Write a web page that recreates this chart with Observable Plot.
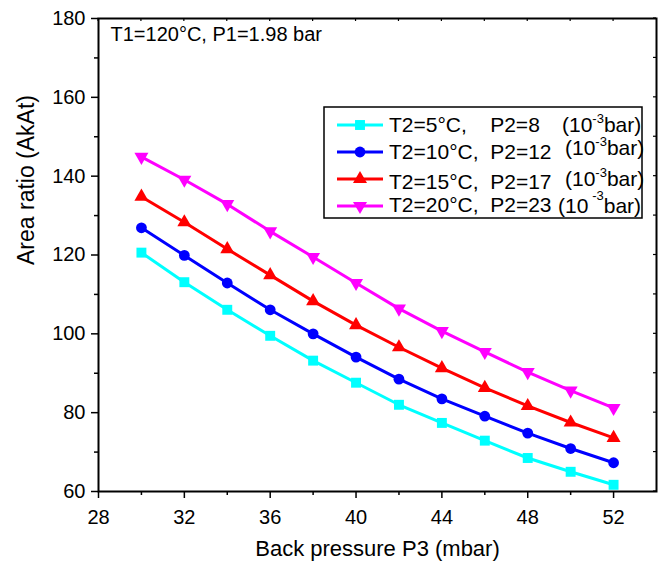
<!DOCTYPE html>
<html>
<head>
<meta charset="utf-8">
<script src="https://cdn.jsdelivr.net/npm/d3@7"></script>
<script src="https://cdn.jsdelivr.net/npm/@observablehq/plot@0.6"></script>
<style>
  html, body { margin: 0; padding: 0; background: #fff; }
  svg { font-family: "Liberation Sans", Arial, sans-serif; }
</style>
</head>
<body>
<div id="chart"></div>
<script>
// ---- data ----
const backPressure = [30, 32, 34, 36, 38, 40, 42, 44, 46, 48, 50, 52];
const ratioT2_5  = [120.6, 113.1, 106.1, 99.5, 93.2, 87.6, 82.0, 77.4, 72.9, 68.5, 65.0, 61.7];
const ratioT2_10 = [126.9, 119.9, 112.9, 106.1, 100.0, 94.1, 88.5, 83.5, 79.1, 74.8, 70.9, 67.3];
const ratioT2_15 = [134.8, 128.3, 121.5, 114.9, 108.3, 102.2, 96.6, 91.3, 86.3, 81.7, 77.5, 73.6];
const ratioT2_20 = [144.9, 139.1, 132.9, 126.0, 119.5, 112.9, 106.4, 100.7, 95.4, 90.3, 85.6, 81.2];
const seriesKeys = ["T2=5", "T2=10", "T2=15", "T2=20"];
const legendLabels = ["T2=5°C,    P2=8", "T2=10°C,  P2=12", "T2=15°C,  P2=17", "T2=20°C,  P2=23"];
const xMajorTicks = [28, 32, 36, 40, 44, 48, 52];
const xMinorTicks = [30, 34, 38, 42, 46, 50];
const yMajorTicks = [60, 80, 100, 120, 140, 160, 180];
const yMinorTicks = [70, 90, 110, 130, 150, 170];
const annotationText = "T1=120°C, P1=1.98 bar";
const xTitle = "Back pressure P3 (mbar)";
const yTitle = "Area ratio (AkAt)";

// ---- styles ----
const colors = ["#00FFFF", "#0000FF", "#FF0000", "#FF00FF"];
const sqrt3 = Math.sqrt(3);
const triangleDown = {
  draw(context, size) {
    const y = -Math.sqrt(size / (sqrt3 * 3));
    context.moveTo(0, -y * 2);
    context.lineTo(-sqrt3 * y, y);
    context.lineTo(sqrt3 * y, y);
    context.closePath();
  }
};
const symbols = [d3.symbolSquare, d3.symbolCircle, d3.symbolTriangle, triangleDown];
const radii = [5.6, 5.4, 5.2, 5.2];

const seriesValues = [ratioT2_5, ratioT2_10, ratioT2_15, ratioT2_20];
const rows = [];
seriesValues.forEach((vals, i) => vals.forEach((v, j) => rows.push({series: seriesKeys[i], p3: backPressure[j], ratio: v})));

const FONT = "Liberation Sans, Arial, sans-serif";

const marks = [
  Plot.axisX({ticks: xMajorTicks, tickSize: 7, tickPadding: 11, fontSize: 20, label: null, strokeWidth: 1.5}),
  Plot.axisX({ticks: xMinorTicks, tickSize: 4, text: null, label: null, strokeWidth: 1.5}),
  Plot.axisY({ticks: yMajorTicks, tickSize: 7, tickPadding: 6, fontSize: 20, label: null, strokeWidth: 1.5}),
  Plot.axisY({ticks: yMinorTicks, tickSize: 4, text: null, label: null, strokeWidth: 1.5}),
];
seriesKeys.forEach((k, i) => {
  const d = rows.filter(r => r.series === k);
  marks.push(Plot.line(d, {x: "p3", y: "ratio", stroke: colors[i], strokeWidth: 3}));
  marks.push(Plot.dot(d, {x: "p3", y: "ratio", fill: colors[i], stroke: "none", symbol: symbols[i], r: radii[i]}));
});
marks.push(
  Plot.frame({stroke: "black", strokeWidth: 2}),
  Plot.text([annotationText], {frameAnchor: "top-left", dx: 12, dy: 8, textAnchor: "start", lineAnchor: "top", fontSize: 20, fill: "black"}),
  Plot.text([xTitle], {frameAnchor: "bottom", dy: 64, fontSize: 22, fill: "black"}),
  Plot.text([yTitle], {frameAnchor: "left", dx: -72, dy: 10, rotate: -90, fontSize: 23, fill: "black"})
);

const plot = Plot.plot({
  width: 664,
  height: 572,
  marginLeft: 98,
  marginRight: 8,
  marginTop: 18,
  marginBottom: 81,
  style: {fontFamily: FONT, background: "white", color: "black", overflow: "visible"},
  x: {domain: [28, 54]},
  y: {domain: [60, 180]},
  marks
});

// mirrored inward ticks on top and right, using the plot's own scales
const svgSel = d3.select(plot);
const xs = plot.scale("x"), ys = plot.scale("y");
const topPx = ys.apply(180), rightPx = xs.apply(54);
const gT = svgSel.append("g").attr("stroke", "black").attr("stroke-width", 1.2);
[...xMajorTicks, ...xMinorTicks].forEach(t => {
  const px = xs.apply(t);
  gT.append("line").attr("x1", px).attr("x2", px).attr("y1", topPx).attr("y2", topPx + 3);
});
[...yMajorTicks, ...yMinorTicks].forEach(t => {
  const py = ys.apply(t);
  gT.append("line").attr("x1", rightPx).attr("x2", rightPx - 3).attr("y1", py).attr("y2", py);
});

// legend box
const lg = svgSel.append("g").attr("font-family", FONT).attr("fill", "black").attr("text-anchor", "start");
lg.append("rect").attr("x", 324).attr("y", 107).attr("width", 318).attr("height", 111)
  .attr("fill", "white").attr("stroke", "black").attr("stroke-width", 1.5);
const rowY = [125, 152, 179, 206];
const textY = [132, 159, 189, 212];
const unitY = [132, 155, 186, 213];
const unitX = [562, 565, 565, 558];
legendLabels.forEach((lab, i) => {
  lg.append("line").attr("x1", 337).attr("x2", 383).attr("y1", rowY[i]).attr("y2", rowY[i])
    .attr("stroke", colors[i]).attr("stroke-width", 3);
  lg.append("path").attr("transform", `translate(360,${rowY[i]})`)
    .attr("d", d3.symbol(symbols[i], radii[i] * radii[i] * Math.PI)()).attr("fill", colors[i]);
  lg.append("text").attr("x", 389).attr("y", textY[i]).attr("font-size", 21)
    .attr("text-anchor", "start").style("white-space", "pre").text(lab);
  const t = lg.append("text").attr("x", unitX[i]).attr("y", unitY[i]).attr("font-size", 21)
    .attr("text-anchor", "start").style("white-space", "pre");
  if (i < 3) {
    t.append("tspan").text("(10");
    t.append("tspan").attr("font-size", 13).attr("dy", -9).text("-3");
    t.append("tspan").attr("dy", 9).text("bar)");
  } else {
    t.append("tspan").text("(10 ");
    t.append("tspan").attr("font-size", 13).attr("dy", -13).attr("dx", -2).text("-3");
    t.append("tspan").attr("dy", 13).text("bar)");
  }
});

document.getElementById("chart").appendChild(plot);
</script>
</body>
</html>
